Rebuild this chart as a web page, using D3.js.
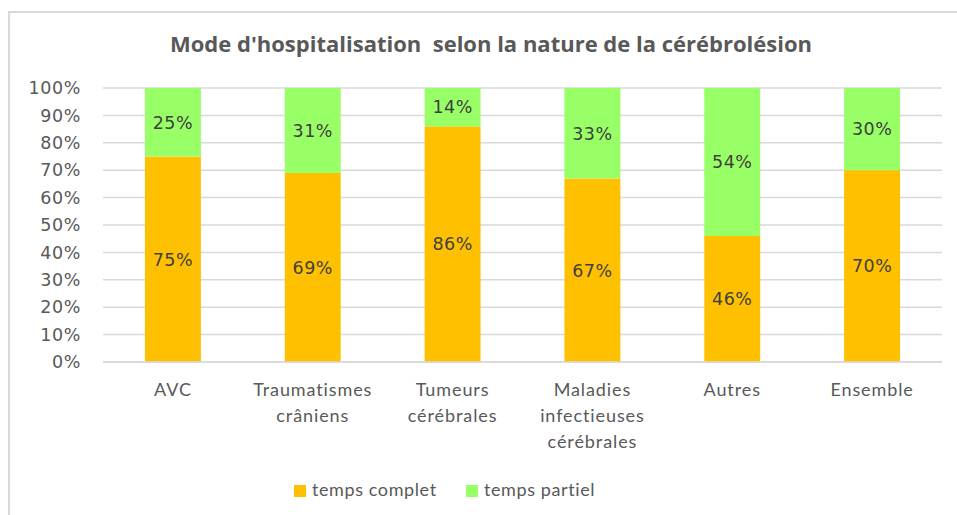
<!DOCTYPE html>
<html>
<head>
<meta charset="utf-8">
<script src="https://cdn.jsdelivr.net/npm/d3@7"></script>
<style>
  body { margin: 0; background: #fff; }
  svg { display: block; }
</style>
</head>
<body>
<div id="chart"></div>
<script>
const categories = [
  ["AVC"],
  ["Traumatismes", "crâniens"],
  ["Tumeurs", "cérébrales"],
  ["Maladies", "infectieuses", "cérébrales"],
  ["Autres"],
  ["Ensemble"]
];
const tempsComplet = [75, 69, 86, 67, 46, 70];
const tempsPartiel = [25, 31, 14, 33, 54, 30];
const seriesNames = ["temps complet", "temps partiel"];
const yTicks = [0, 10, 20, 30, 40, 50, 60, 70, 80, 90, 100];

const W = 957, H = 515;
const colors = ["#FFC000", "#99FF66"];
const textColor = "#595959";

const margin = {top: 88, right: 15, bottom: 153, left: 103};
const width = W - margin.left - margin.right,
      height = H - margin.top - margin.bottom;

const svg = d3.select("#chart").append("svg")
  .attr("width", W)
  .attr("height", H);

/* chart frame (only top and left edges visible in the crop) */
svg.append("line")
  .attr("x1", 8).attr("x2", W).attr("y1", 12).attr("y2", 12)
  .attr("stroke", "#d9d9d9").attr("stroke-width", 2);
svg.append("line")
  .attr("x1", 9).attr("x2", 9).attr("y1", 12).attr("y2", H)
  .attr("stroke", "#d9d9d9").attr("stroke-width", 2);

svg.append("text")
  .attr("x", 491).attr("y", 52)
  .attr("text-anchor", "middle")
  .attr("fill", textColor)
  .attr("xml:space", "preserve")
  .style("font-family", "'Open Sans', sans-serif")
  .style("font-weight", "bold")
  .style("font-size", "21px")
  .attr("textLength", 642)
  .attr("lengthAdjust", "spacingAndGlyphs")
  .text("Mode d'hospitalisation  selon la nature de la cérébrolésion");

const g = svg.append("g")
  .attr("transform", "translate(" + margin.left + " " + margin.top + ")");

const x = d3.scaleBand()
  .domain(d3.range(categories.length))
  .range([0, width])
  .paddingInner(0.6)
  .paddingOuter(0.3);

const y = d3.scaleLinear()
  .domain([0, 100])
  .range([height, 0]);

/* gridlines */
g.append("g")
  .selectAll("line")
  .data(yTicks)
  .join("line")
    .attr("x1", 0).attr("x2", width)
    .attr("y1", d => y(d)).attr("y2", d => y(d))
    .attr("stroke", "#d9d9d9")
    .attr("stroke-width", 1.5);

/* y axis labels */
const yAxis = g.append("g")
  .call(d3.axisLeft(y).tickValues(yTicks).tickFormat(d => d + "%").tickSize(0).tickPadding(22));
yAxis.select(".domain").remove();
yAxis.selectAll("text")
  .attr("fill", textColor)
  .style("font-family", "'DejaVu Sans', Verdana, sans-serif")
  .style("font-size", "17.5px")
  .style("letter-spacing", "0.6px");

/* stacked bars */
const stacks = [tempsComplet, tempsPartiel];
stacks.forEach((vals, s) => {
  const base = s === 0 ? vals.map(() => 0) : tempsComplet;
  g.append("g")
    .selectAll("rect")
    .data(vals)
    .join("rect")
      .attr("x", (d, i) => x(i))
      .attr("width", x.bandwidth())
      .attr("y", (d, i) => y(base[i] + d))
      .attr("height", (d, i) => y(base[i]) - y(base[i] + d))
      .attr("fill", colors[s]);

  g.append("g")
    .selectAll("text")
    .data(vals)
    .join("text")
      .attr("x", (d, i) => x(i) + x.bandwidth() / 2)
      .attr("y", (d, i) => y(base[i] + d / 2))
      .attr("dy", "0.36em")
      .attr("text-anchor", "middle")
      .attr("fill", "#404040")
      .style("font-family", "'DejaVu Sans', Verdana, sans-serif")
      .style("font-size", "17.5px")
      .style("letter-spacing", "0.5px")
      .text(d => d + "%");
});

/* baseline */
g.append("line")
  .attr("x1", 0).attr("x2", width)
  .attr("y1", height).attr("y2", height)
  .attr("stroke", "#d9d9d9")
  .attr("stroke-width", 1.5);

/* category labels */
const cat = g.append("g")
  .selectAll("text")
  .data(categories)
  .join("text")
    .attr("text-anchor", "middle")
    .attr("fill", textColor)
    .style("font-family", "Lato, sans-serif")
    .style("font-size", "18px")
    .style("letter-spacing", "0.9px")
    .attr("transform", (d, i) => "translate(" + (x(i) + x.bandwidth() / 2) + " " + (height + 34) + ")");
cat.selectAll("tspan")
  .data(d => d)
  .join("tspan")
    .attr("x", 0)
    .attr("y", (d, i) => i * 26)
    .text(d => d);

/* legend */
const legendX = [294, 466];
const legend = svg.append("g")
  .selectAll("g")
  .data(seriesNames)
  .join("g")
    .attr("transform", (d, i) => "translate(" + legendX[i] + " 485)");
legend.append("rect")
  .attr("width", 12).attr("height", 12)
  .attr("fill", (d, i) => colors[i]);
legend.append("text")
  .attr("x", 18).attr("y", 11)
  .attr("fill", textColor)
  .style("font-family", "Lato, sans-serif")
  .style("font-size", "18px")
  .style("letter-spacing", "0.6px")
  .text(d => d);
</script>
</body>
</html>
